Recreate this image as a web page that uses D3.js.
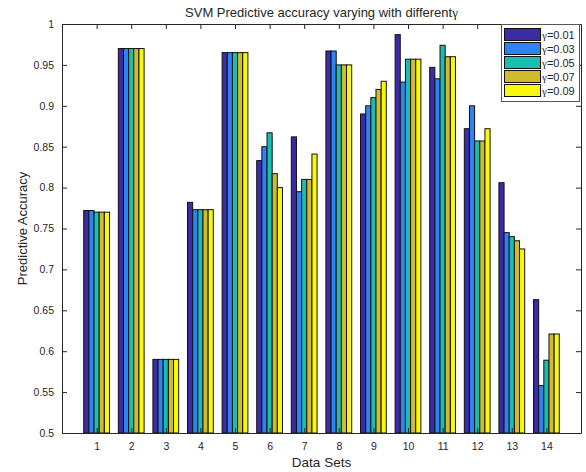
<!DOCTYPE html>
<html><head><meta charset="utf-8">
<script src="https://cdn.jsdelivr.net/npm/d3@7"></script>
<style>
body{margin:0;background:#fff;}
text{font-family:"Liberation Sans",Arial,sans-serif;fill:#262626;}
</style></head>
<body><svg id="c" width="586" height="472"></svg>
<script>
const dataSets = ["1","2","3","4","5","6","7","8","9","10","11","12","13","14"];
const seriesNames = ["0.01","0.03","0.05","0.07","0.09"];
const g001 = [0.772,0.970,0.590,0.782,0.965,0.833,0.862,0.967,0.890,0.987,0.947,0.872,0.806,0.663];
const g003 = [0.772,0.970,0.590,0.773,0.965,0.850,0.795,0.967,0.900,0.929,0.933,0.900,0.745,0.558];
const g005 = [0.770,0.970,0.590,0.773,0.965,0.867,0.810,0.950,0.910,0.957,0.974,0.857,0.740,0.589];
const g007 = [0.770,0.970,0.590,0.773,0.965,0.817,0.810,0.950,0.920,0.957,0.960,0.857,0.735,0.621];
const g009 = [0.770,0.970,0.590,0.773,0.965,0.800,0.841,0.950,0.930,0.957,0.960,0.872,0.725,0.621];
const colors = ["#3b2ba4","#2f82f2","#1cbdb0","#d0bc2b","#f8f80f"];
const yTicks = [0.5,0.55,0.6,0.65,0.7,0.75,0.8,0.85,0.9,0.95,1];

const series = [g001,g003,g005,g007,g009];
const svg = d3.select("#c");
const L=62,R=581,T=24,B=433;
const x = d3.scaleLinear().domain([0,15]).range([L,R]);
const y = d3.scaleLinear().domain([0.5,1]).range([B,T]);
const groupW = 0.745, n = series.length, bw = groupW/n;
const axisCol = "#262626";

// bars
series.forEach((s,si)=>{
  svg.append("g").selectAll("rect").data(s).enter().append("rect")
    .attr("x",(d,i)=>x(i+1 - groupW/2 + si*bw))
    .attr("width",x(bw)-x(0))
    .attr("y",d=>y(d))
    .attr("height",d=>y(0.5)-y(d))
    .attr("fill",colors[si])
    .attr("stroke","#111").attr("stroke-width",1);
});

// axes
const fmt = d=>String(+d.toFixed(2));
const xt = dataSets.map((d,i)=>i+1);
const gL = svg.append("g").attr("transform",`translate(${L},0)`)
  .call(d3.axisLeft(y).tickValues(yTicks).tickFormat(fmt).tickSizeInner(-5).tickSizeOuter(0).tickPadding(8));
const gR = svg.append("g").attr("transform",`translate(${R},0)`)
  .call(d3.axisRight(y).tickValues(yTicks).tickFormat("").tickSizeInner(-5).tickSizeOuter(0));
const gB = svg.append("g").attr("transform",`translate(0,${B})`)
  .call(d3.axisBottom(x).tickValues(xt).tickFormat((d,i)=>dataSets[i]).tickSizeInner(-5).tickSizeOuter(0).tickPadding(10));
const gT = svg.append("g").attr("transform",`translate(0,${T})`)
  .call(d3.axisTop(x).tickValues(xt).tickFormat("").tickSizeInner(-5).tickSizeOuter(0));
[gL,gR,gB,gT].forEach(g=>{
  g.selectAll("path").attr("stroke",axisCol);
  g.selectAll("line").attr("stroke",axisCol);
  g.selectAll("text").attr("font-size",10.5).attr("fill",axisCol).attr("font-family","Liberation Sans, Arial, sans-serif");
});

// labels
svg.append("text").attr("x",(L+R)/2).attr("y",467).attr("text-anchor","middle").attr("font-size",13.5).text("Data Sets");
svg.append("text").attr("transform",`translate(27,${(T+B)/2}) rotate(-90)`).attr("text-anchor","middle").attr("font-size",13).text("Predictive Accuracy");
const ti = svg.append("text").attr("x",(L+R)/2).attr("y",17).attr("text-anchor","middle").attr("font-size",13);
ti.append("tspan").text("SVM Predictive accuracy varying with different");
ti.append("tspan").attr("font-family","Liberation Serif, Times New Roman, serif").text("γ");

// legend
const lg = svg.append("g");
lg.append("rect").attr("x",501.5).attr("y",24.5).attr("width",78).attr("height",77)
  .attr("fill","#fff").attr("stroke","#555");
seriesNames.forEach((s,i)=>{
  const cy = 34.5 + i*14;
  lg.append("rect").attr("x",504.5).attr("y",cy-6).attr("width",36).attr("height",12)
    .attr("fill",colors[i]).attr("stroke","#111");
  const t = lg.append("text").attr("x",542).attr("y",cy+4).attr("font-size",11);
  t.append("tspan").attr("font-family","Liberation Serif, Times New Roman, serif").text("γ");
  t.append("tspan").text("="+s);
});
</script></body></html>
